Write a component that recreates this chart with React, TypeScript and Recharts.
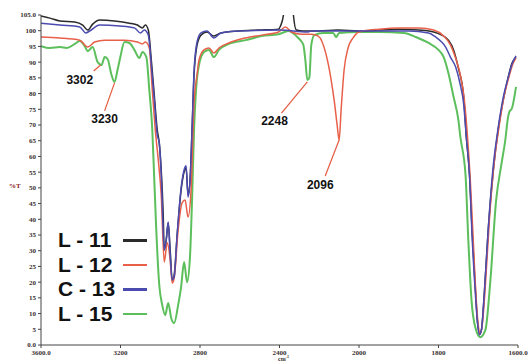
import { LineChart, Line, XAxis, YAxis, ReferenceLine, ReferenceDot } from "recharts";

// x axis has a break at 2000 cm-1: the low end is drawn twice as wide
const X_TICK_WN = [3600, 3200, 2800, 2400, 2000, 1800, 1600];
const X_TICK_LABELS = ["3600.0", "3200", "2800", "2400", "2000", "1800", "1600.0"];
const Y_TICKS = [0, 5, 10, 15, 20, 25, 30, 35, 40, 45, 50, 55, 60, 65, 70, 75, 80, 85, 90, 95, 100, 105];

const L11_WN = [3600, 3555, 3505, 3430, 3390, 3365, 3340, 3305, 3230, 3155, 3115, 3090, 3075, 3060, 3045, 3030, 3015, 3005, 2995, 2985, 2980, 2970, 2960, 2950, 2940, 2930, 2915, 2895, 2880, 2870, 2860, 2850, 2840, 2830, 2815, 2795, 2765, 2730, 2695, 2605, 2505, 2405, 2395, 2380, 2375, 2335, 2330, 2315, 2280, 2205, 2105, 2000, 1950, 1900, 1850, 1812, 1792, 1775, 1762, 1750, 1737, 1730, 1722, 1715, 1707, 1702, 1697, 1692, 1685, 1675, 1662, 1650, 1637, 1625, 1615, 1605];
const L11_T = [104.7, 104.0, 103.1, 102.8, 101.8, 100.2, 102.1, 103.4, 103.1, 102.4, 101.8, 100.9, 101.8, 100.2, 90.7, 79.5, 68.4, 64.3, 55.7, 41.4, 30.2, 33.4, 38.8, 30.2, 20.7, 22.3, 35.0, 49.3, 55.0, 56.3, 47.7, 52.5, 68.4, 85.9, 95.4, 98.6, 99.6, 98.3, 99.3, 99.9, 100.2, 100.5, 101.5, 105.0, 112, 112, 105.0, 100.2, 99.9, 99.9, 100.2, 99.9, 100.2, 100.5, 100.2, 99.6, 98.6, 97.0, 93.9, 88.1, 79.5, 66.2, 54.1, 35.0, 17.5, 7.3, 3.5, 4.8, 15.9, 36.6, 55.7, 68.4, 78.0, 85.0, 89.7, 91.6];

const L12_WN = [3600, 3505, 3405, 3365, 3330, 3280, 3180, 3115, 3090, 3075, 3055, 3040, 3025, 3010, 2995, 2980, 2965, 2950, 2940, 2930, 2910, 2890, 2875, 2860, 2845, 2830, 2815, 2805, 2780, 2755, 2730, 2705, 2655, 2570, 2490, 2405, 2370, 2340, 2290, 2240, 2205, 2165, 2140, 2125, 2110, 2100, 2090, 2075, 2055, 2030, 2000, 1950, 1900, 1850, 1812, 1787, 1770, 1757, 1745, 1735, 1727, 1720, 1712, 1705, 1700, 1695, 1690, 1682, 1672, 1660, 1647, 1635, 1622, 1612, 1605];
const L12_T = [98.0, 97.7, 97.0, 94.8, 96.4, 97.0, 97.0, 96.4, 95.8, 96.4, 94.5, 81.1, 68.4, 58.9, 47.7, 26.4, 32.5, 27.0, 19.7, 21.3, 36.6, 45.2, 46.1, 40.7, 49.3, 77.0, 85.9, 90.7, 93.9, 94.5, 92.9, 94.5, 96.1, 97.7, 98.6, 99.6, 101.2, 99.6, 98.9, 98.9, 98.3, 92.3, 84.3, 77.9, 70.0, 65.2, 74.8, 87.5, 94.5, 97.7, 99.6, 100.5, 100.9, 100.9, 100.2, 98.3, 95.5, 91.3, 85.9, 78.0, 66.2, 52.5, 31.8, 14.3, 6.4, 3.5, 6.4, 19.1, 39.8, 57.9, 70.0, 79.2, 85.6, 89.7, 91.3];

const C13_WN = [3600, 3505, 3405, 3375, 3355, 3305, 3205, 3130, 3100, 3080, 3060, 3045, 3030, 3015, 3005, 2995, 2980, 2970, 2960, 2950, 2940, 2930, 2915, 2895, 2880, 2870, 2860, 2850, 2840, 2830, 2815, 2795, 2765, 2730, 2695, 2600, 2400, 2260, 2240, 2000, 1950, 1875, 1825, 1807, 1792, 1782, 1770, 1757, 1745, 1737, 1730, 1722, 1715, 1707, 1702, 1697, 1692, 1685, 1675, 1662, 1650, 1637, 1625, 1615, 1605];
const C13_T = [102.4, 101.8, 101.2, 99.3, 99.9, 101.8, 101.5, 100.9, 99.3, 100.2, 98.6, 89.1, 78.0, 66.8, 64.3, 54.1, 30.2, 33.4, 39.1, 28.6, 20.7, 21.6, 35.0, 50.0, 55.7, 57.0, 47.1, 52.5, 68.4, 86.9, 96.4, 99.3, 99.9, 97.7, 99.3, 99.9, 100.2, 99.6, 99.9, 99.9, 99.9, 99.9, 99.3, 98.0, 96.4, 94.8, 91.6, 88.5, 82.7, 77.0, 66.2, 54.1, 33.4, 15.9, 7.3, 3.2, 4.8, 15.9, 36.6, 57.3, 69.0, 78.9, 85.0, 89.4, 92.0];

const L15_WN = [3600, 3555, 3505, 3470, 3430, 3405, 3380, 3365, 3340, 3315, 3295, 3280, 3265, 3245, 3230, 3215, 3200, 3180, 3155, 3130, 3105, 3090, 3070, 3055, 3040, 3030, 3020, 3005, 2990, 2975, 2960, 2945, 2930, 2910, 2895, 2880, 2865, 2850, 2840, 2830, 2820, 2805, 2780, 2755, 2730, 2705, 2655, 2570, 2490, 2405, 2355, 2315, 2295, 2280, 2270, 2260, 2250, 2240, 2225, 2180, 2130, 2115, 2100, 2000, 1950, 1887, 1857, 1825, 1800, 1787, 1775, 1762, 1750, 1745, 1732, 1725, 1717, 1707, 1695, 1682, 1670, 1655, 1642, 1632, 1625, 1622, 1615, 1605];
const L15_T = [95.1, 94.5, 94.8, 94.5, 95.8, 96.7, 95.1, 93.5, 94.8, 90.0, 89.1, 91.6, 91.0, 85.9, 83.7, 87.5, 91.9, 96.4, 96.1, 93.9, 91.3, 93.2, 91.6, 81.1, 68.4, 52.5, 36.6, 19.1, 12.7, 9.5, 13.4, 8.6, 7.0, 12.7, 18.5, 26.4, 20.0, 28.6, 46.1, 68.4, 81.1, 89.1, 93.2, 93.9, 91.6, 93.9, 95.8, 97.0, 98.3, 98.9, 99.9, 98.3, 97.0, 95.5, 90.7, 84.3, 85.0, 95.5, 98.6, 99.3, 99.3, 98.0, 99.3, 99.6, 99.6, 99.3, 98.0, 96.1, 93.9, 91.6, 86.5, 78.9, 71.6, 66.2, 54.1, 33.4, 14.3, 5.4, 2.5, 4.8, 19.7, 46.1, 57.3, 65.2, 72.5, 74.1, 75.4, 82.1];

const SERIES = [
  { name: "L - 15", wn: L15_WN, t: L15_T, color: "#5cbf5c", width: 2 },
  { name: "L - 11", wn: L11_WN, t: L11_T, color: "#2b2b2b", width: 1.5 },
  { name: "L - 12", wn: L12_WN, t: L12_T, color: "#e8604a", width: 1.5 },
  { name: "C - 13", wn: C13_WN, t: C13_T, color: "#4b4bb0", width: 1.5 },
];
const LEGEND_ORDER = ["L - 11", "L - 12", "C - 13", "L - 15"];

// peak labels: text centre, and pointer from text to the band
const PEAKS = [
  { text: "3302", wn: 3405, t: 84.3, from: [3335, 87.2], to: [3300, 89.1] },
  { text: "3230", wn: 3280, t: 71.9, from: [3280, 74.5], to: [3230, 83.4] },
  { text: "2248", wn: 2425, t: 71.3, from: [2390, 73.8], to: [2260, 83.7] },
  { text: "2096", wn: 2195, t: 50.9, from: [2170, 53.8], to: [2100, 65.2] },
];

const toPos = (wn: number) => (wn >= 2000 ? 3600 - wn : 1600 + (2000 - wn) * 2);

const tickStyle = { fontSize: 7, fontWeight: 700, fill: "#3a3030", fontFamily: "Liberation Serif, serif" };

export default function App() {
  const xTicks = X_TICK_WN.map(toPos);
  const xLabel = (p: number) => X_TICK_LABELS[xTicks.indexOf(p)] ?? "";

  return (
    <div style={{ position: "absolute", left: 0, top: 0, width: 530, height: 364, background: "#fff", overflow: "hidden" }}>
      <LineChart width={530} height={364} margin={{ top: 15, right: 12, bottom: 0, left: 0 }}>
        <XAxis
          type="number"
          dataKey="pos"
          domain={[0, 2400]}
          ticks={xTicks}
          tickFormatter={xLabel}
          allowDataOverflow
          height={19}
          tickSize={3}
          tick={tickStyle}
          stroke="#444"
        />
        <YAxis
          type="number"
          domain={[0, 105]}
          ticks={Y_TICKS}
          interval={0}
          tickFormatter={(v: number) => (v === 0 ? "0.0" : v === 105 ? "105.0" : String(v))}
          allowDataOverflow
          width={41}
          tickSize={3}
          tick={tickStyle}
          stroke="#444"
        />
        {SERIES.map((s) => (
          <Line
            key={s.name}
            data={s.wn.map((w, i) => ({ pos: toPos(w), t: s.t[i] }))}
            dataKey="t"
            type="monotone"
            stroke={s.color}
            strokeWidth={s.width}
            dot={false}
            activeDot={false}
            isAnimationActive={false}
          />
        ))}
        {PEAKS.map((p) => (
          <ReferenceLine
            key={"l" + p.text}
            segment={[
              { x: toPos(p.from[0]), y: p.from[1] },
              { x: toPos(p.to[0]), y: p.to[1] },
            ]}
            stroke="#e4593f"
            strokeWidth={1.2}
          />
        ))}
        {PEAKS.map((p) => (
          <ReferenceDot
            key={"d" + p.text}
            x={toPos(p.wn)}
            y={p.t}
            r={0}
            fill="none"
            stroke="none"
            label={{
              value: p.text,
              position: "center",
              fill: "#111",
              fontSize: 12,
              fontWeight: 700,
              fontFamily: "Liberation Sans, Arial, sans-serif",
            }}
          />
        ))}
      </LineChart>

      <div style={{ position: "absolute", left: 9, top: 182, fontSize: 7, fontWeight: 700, color: "#8b2525", fontFamily: "Liberation Serif, serif" }}>
        %T
      </div>
      <div style={{ position: "absolute", left: 278, top: 356, fontSize: 6, lineHeight: "7px", fontWeight: 700, color: "#333", fontFamily: "Liberation Serif, serif" }}>
        cm<sup style={{ fontSize: 4, lineHeight: 0 }}>-1</sup>
      </div>

      {LEGEND_ORDER.map((name, i) => {
        const s = SERIES.find((x) => x.name === name)!;
        const cy = 240 + i * 24.5;
        return (
          <div key={name}>
            <div
              style={{
                position: "absolute",
                left: 58,
                top: cy - 13,
                height: 26,
                lineHeight: "26px",
                fontSize: 21,
                fontWeight: 700,
                color: "#111",
                fontFamily: "Liberation Sans, Arial, sans-serif",
                whiteSpace: "nowrap",
              }}
            >
              {name}
            </div>
            <div style={{ position: "absolute", left: 123, top: cy - 1, width: 24, height: 2.5, background: s.color }} />
          </div>
        );
      })}
    </div>
  );
}
